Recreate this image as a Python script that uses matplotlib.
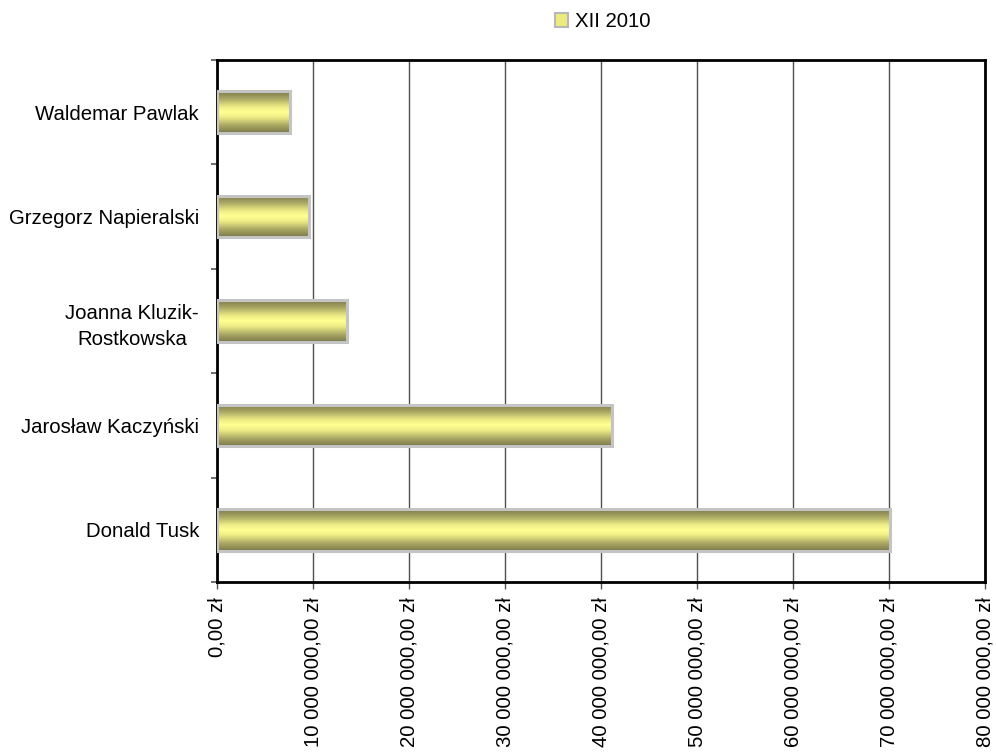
import numpy as np
import matplotlib.pyplot as plt
from matplotlib.colors import LinearSegmentedColormap
from matplotlib.patches import Patch
from matplotlib.ticker import FuncFormatter, MultipleLocator

plt.rcParams['font.family'] = ['Liberation Sans', 'DejaVu Sans']

# bottom to top
names = ['Donald Tusk', 'Jarosław Kaczyński', 'Joanna Kluzik-\nRostkowska',
         'Grzegorz Napieralski', 'Waldemar Pawlak']
values = [70.1e6, 41.1e6, 13.5e6, 9.6e6, 7.6e6]
series_name = 'XII 2010'

fig = plt.figure(figsize=(9.96, 7.53), dpi=100)
ax = fig.add_axes([0.2179, 0.2271, 0.9890 - 0.2179, 0.9203 - 0.2271])

pos = np.arange(len(names))
h = 0.4

# olive -> pale yellow -> olive, top to bottom of each bar
grad = LinearSegmentedColormap.from_list(
    'olive', [(0.0, '#7a784a'), (0.18, '#a9a763'), (0.38, '#eeee86'),
              (0.5, '#ffff92'), (0.62, '#eeee86'), (0.82, '#a9a763'),
              (1.0, '#7a784a')])
g = np.linspace(0, 1, 256).reshape(-1, 1)

bars = ax.barh(pos, values, height=h, facecolor='none',
               edgecolor='#c4c4c4', linewidth=2.2, zorder=4)
for b in bars:
    x0, y0 = b.get_x(), b.get_y()
    im = ax.imshow(g, cmap=grad, aspect='auto', interpolation='bilinear',
                   extent=[x0, x0 + b.get_width(), y0, y0 + b.get_height()],
                   zorder=3)
    im.set_clip_path(b)

ax.set_xlim(0, 80e6)
ax.set_ylim(-0.5, len(names) - 0.5)

ax.xaxis.set_major_locator(MultipleLocator(10e6))
def zl(v, _):
    s = f'{v:,.2f}'.replace(',', ' ').replace('.', ',')
    return s + ' zł'
ax.xaxis.set_major_formatter(FuncFormatter(zl))
ax.grid(axis='x', color='#505050', linewidth=1.0, zorder=1)
ax.set_axisbelow(True)

ax.set_yticks(pos)
ax.set_yticklabels(names)
ax.set_yticks(np.arange(-0.5, len(names)), minor=True)
ax.tick_params(axis='y', which='major', length=0, pad=13, labelsize=14.7)
ax.tick_params(axis='y', which='minor', length=4, width=1.2, color='#555555')
ax.tick_params(axis='x', length=5, width=1.0, color='#555555', pad=6,
               labelsize=14.7, labelrotation=90)
for lbl in ax.get_yticklabels():
    lbl.set_multialignment('center')
    lbl.set_linespacing(1.45)
for lbl in ax.get_xticklabels():
    lbl.set_va('top')

for sp in ax.spines.values():
    sp.set_linewidth(2.0)
    sp.set_color('black')

handle = Patch(facecolor='#ecec7e', edgecolor='#b8b8b8', linewidth=1.5)
fig.legend([handle], [series_name], loc='center', bbox_to_anchor=(0.605, 0.971),
           frameon=False, fontsize=14.7, handlelength=0.65, handleheight=0.65,
           handletextpad=0.35, borderaxespad=0)

fig.savefig('out.png', dpi=100)
